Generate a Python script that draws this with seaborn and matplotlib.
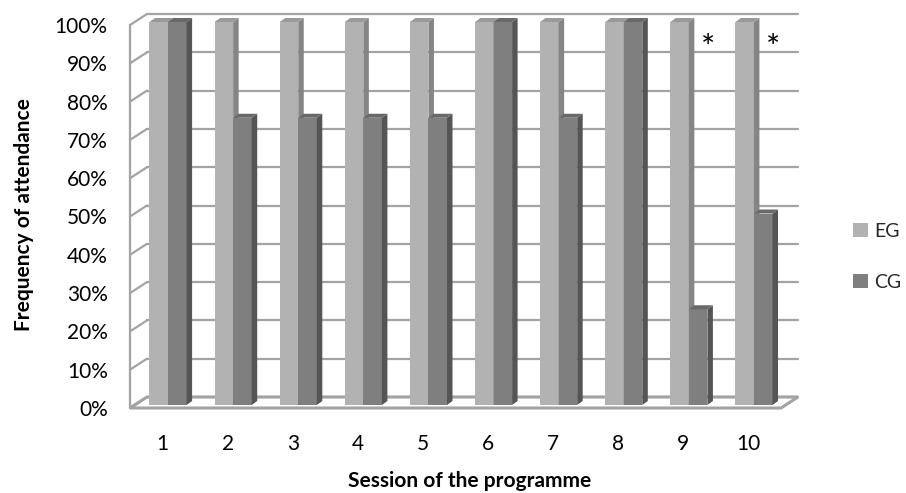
import pandas as pd
import numpy as np
import matplotlib
matplotlib.use("Agg")
import matplotlib.pyplot as plt
import matplotlib.transforms as mtransforms
from matplotlib.patches import Polygon
import seaborn as sns

# ------------------------
# Data
# ------------------------
sessions = [str(i) for i in range(1, 11)]
eg_attendance = [100, 100, 100, 100, 100, 100, 100, 100, 100, 100]
cg_attendance = [100, 75, 75, 75, 75, 100, 75, 100, 25, 50]
groups = ["EG", "CG"]
y_ticks = list(range(0, 101, 10))
flagged_sessions = ["9", "10"]

df = pd.DataFrame({
    "session": sessions * 2,
    "attendance": eg_attendance + cg_attendance,
    "group": [groups[0]] * len(sessions) + [groups[1]] * len(sessions),
})

# ------------------------
# Style
# ------------------------
sns.set_theme(style="white")
plt.rcParams["font.family"] = ["Lato", "DejaVu Sans"]

front_colors = ["#b2b2b2", "#7f7f7f"]
top_colors = ["#9a9a9a", "#696969"]
side_colors = ["#858585", "#555555"]
grid_color = "#a3a3a3"

W, H = 906, 493
fig = plt.figure(figsize=(W / 100, H / 100), dpi=100)
# axes = plane of the bars' front faces (pixels)
ax = fig.add_axes([135.5 / W, (H - 405) / H, 651 / W, 383 / H])

sns.barplot(data=df, x="session", y="attendance", hue="group",
            palette=front_colors, saturation=1, width=0.57,
            linewidth=0, edgecolor="none", ax=ax)
ax.set_xlim(-0.5, len(sessions) - 0.5)
ax.set_ylim(0, 100)

# pixel -> data conversion for the fake 3D depth
sx = 651 / len(sessions)
sy = 383 / 100


def px(dx, dy):
    return dx / sx, dy / sy


bar_dx, bar_dy = px(5.5, 4)
back_dx, back_dy = px(11.5, 8)
front_dx, front_dy = px(-5.5, -3)

# ------------------------
# Walls and floor
# ------------------------
x_left, x_right = -0.5, len(sessions) - 0.5
for v in y_ticks:
    ax.plot([x_left + back_dx, x_right + back_dx], [v + back_dy] * 2,
            color=grid_color, lw=1.6, zorder=1, clip_on=False)
    ax.plot([x_left + front_dx, x_left + back_dx], [v + front_dy, v + back_dy],
            color=grid_color, lw=1.6, zorder=1, clip_on=False)
ax.plot([x_left + front_dx] * 2, [front_dy, 100 + front_dy],
        color=grid_color, lw=1.6, zorder=1, clip_on=False)
floor = Polygon([(x_left + front_dx, front_dy), (x_right + front_dx, front_dy),
                 (x_right + back_dx, back_dy), (x_left + back_dx, back_dy)],
                closed=True, facecolor="none", edgecolor=grid_color, lw=2.2,
                zorder=1, clip_on=False)
ax.add_patch(floor)

# ------------------------
# 3D faces on the bars
# ------------------------
for k, cont in enumerate(ax.containers):
    for bar in cont:
        bar.set_zorder(3 + k)
        x0, w, h = bar.get_x(), bar.get_width(), bar.get_height()
        x1 = x0 + w
        side = Polygon([(x1, 0), (x1 + bar_dx, bar_dy), (x1 + bar_dx, h + bar_dy), (x1, h)],
                       closed=True, facecolor=side_colors[k], edgecolor="none",
                       zorder=3 + k, clip_on=False)
        top = Polygon([(x0, h), (x1, h), (x1 + bar_dx, h + bar_dy), (x0 + bar_dx, h + bar_dy)],
                      closed=True, facecolor=top_colors[k], edgecolor="none",
                      zorder=3 + k, clip_on=False)
        ax.add_patch(side)
        ax.add_patch(top)

# asterisks above the CG bars of the flagged sessions
for s in flagged_sessions:
    ax.text(sessions.index(s) + 0.30, 93, "*", ha="center", va="center",
            fontsize=24, color="black", zorder=6)

# ------------------------
# Axes text
# ------------------------
for side in ["top", "right", "left", "bottom"]:
    ax.spines[side].set_visible(False)
ax.set_yticks(y_ticks)
ax.set_yticklabels([f"{v}%" for v in y_ticks])
ax.tick_params(axis="both", length=0, labelsize=15, colors="black")
ax.tick_params(axis="y", pad=20)
ax.tick_params(axis="x", pad=21)
for lab in ax.get_yticklabels():
    lab.set_transform(lab.get_transform() + mtransforms.ScaledTranslation(0, -3 / 100, fig.dpi_scale_trans))
for lab in ax.get_xticklabels():
    lab.set_transform(lab.get_transform() + mtransforms.ScaledTranslation(-5.5 / 100, 0, fig.dpi_scale_trans))

ax.set_xlabel("Session of the programme", fontsize=15, fontweight="bold", color="black")
ax.set_ylabel("Frequency of attendance", fontsize=15, fontweight="bold", color="black")
ax.xaxis.set_label_coords((470 - 135.5) / 651, (405 - 471) / 383)
ax.yaxis.set_label_coords((34 - 135.5) / 651, (405 - 215) / 383)

sns.move_legend(ax, "center left", bbox_to_anchor=(853 / W, (H - 257) / H),
                bbox_transform=fig.transFigure, frameon=False, title=None,
                fontsize=14, handlelength=0.75, handleheight=0.75,
                handletextpad=0.35, labelspacing=1.75, borderpad=0,
                borderaxespad=0)

fig.savefig("out.png", dpi=100)
